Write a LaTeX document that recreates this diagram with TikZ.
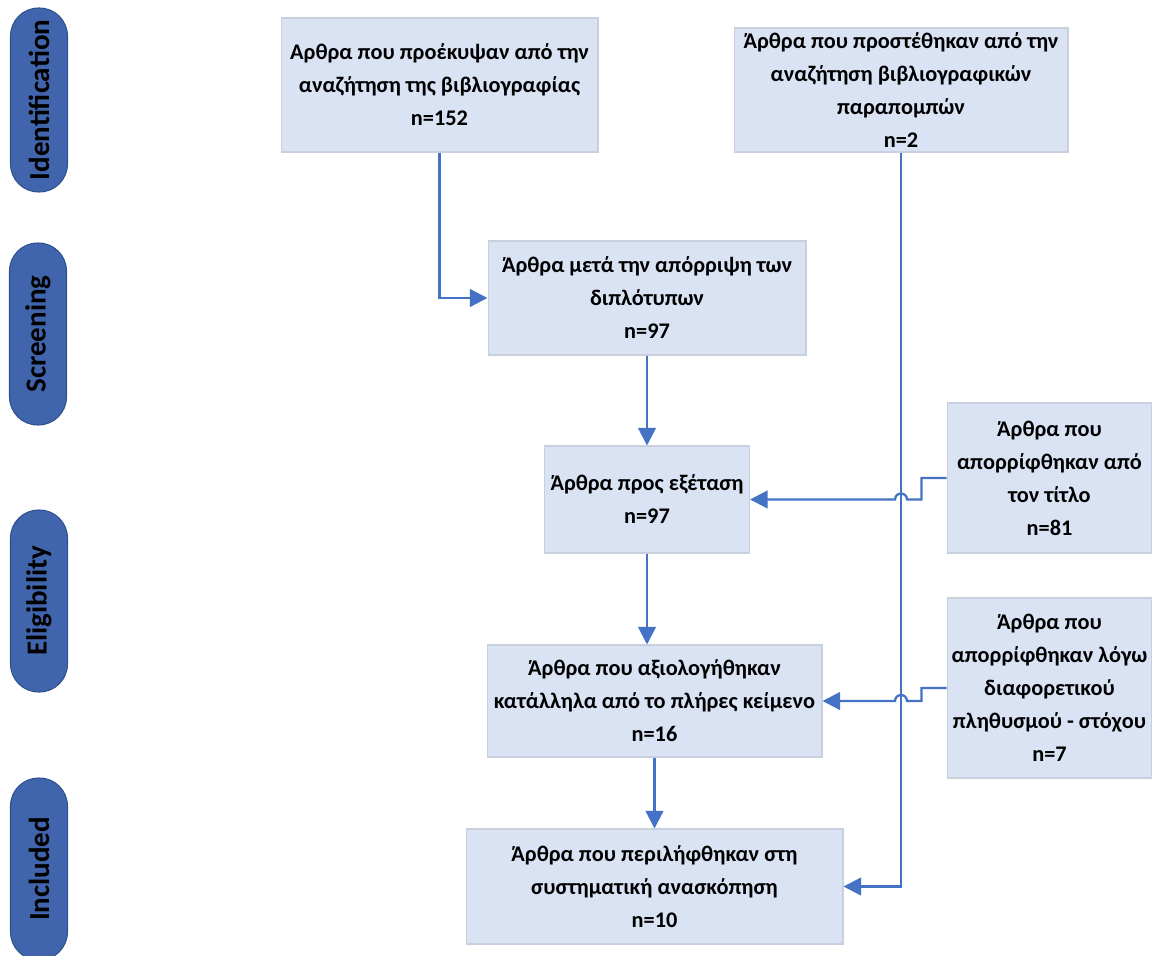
\documentclass[tikz,border=0pt]{standalone}
\usepackage{fontspec}
\setmainfont{Carlito}
\usepackage{tikz}
\usetikzlibrary{arrows.meta,calc}
\definecolor{boxfill}{HTML}{DAE3F3}
\definecolor{boxline}{HTML}{C9D0DD}
\definecolor{phasefill}{HTML}{4065AC}
\definecolor{phaseline}{HTML}{2F528F}
\definecolor{flowline}{HTML}{4472C4}

\begin{document}
\begin{tikzpicture} [x=0.02cm, y=-0.02cm,
                box/.style = {draw=boxline, fill=boxfill, line width=0.6pt, align=center, inner sep=0pt, font=\bfseries\fontsize{12.7}{18.8}\selectfont},
                phase/.style = {draw=phaseline, fill=phasefill, line width=0.6pt, rounded corners=0.56cm, rotate=90, minimum height=1.14cm, inner sep=0pt, font=\bfseries\fontsize{16.5}{19}\selectfont},
                flow/.style = {draw=flowline, line width=1.3pt, -{Triangle[length=10pt,width=10pt]}}
            ]
            \useasboundingbox (0,0) rectangle (1152,956);
            % phases
            \node[phase, minimum width=3.68cm] (ident) at (39,100) {Identification};
            \node[phase, minimum width=3.64cm] (screen) at (38,334) {Screening};
            \node[phase, minimum width=3.64cm] (elig) at (39,601) {Eligibility};
            \node[phase, minimum width=3.64cm] (incl) at (39,869) {Included};
            % boxes
            \node[box, minimum width=6.34cm, minimum height=2.68cm] (found) at (439.5,85) {Αρθρα που προέκυψαν από την\\αναζήτηση της βιβλιογραφίας\\n=152};
            \node[box, minimum width=6.68cm, minimum height=2.48cm] (added) at (901,90) {Άρθρα που προστέθηκαν από την\\αναζήτηση βιβλιογραφικών\\παραπομπών\\n=2};
            \node[box, minimum width=6.36cm, minimum height=2.28cm] (dedup) at (647,298) {Άρθρα μετά την απόρριψη των\\διπλότυπων\\n=97};
            \node[box, minimum width=4.1cm, minimum height=2.14cm] (exam) at (647,499.5) {Άρθρα προς εξέταση\\n=97};
            \node[box, minimum width=4.1cm, minimum height=3cm] (title) at (1049.5,478) {Άρθρα που\\απορρίφθηκαν από\\τον τίτλο\\n=81};
            \node[box, minimum width=6.7cm, minimum height=2.24cm] (full) at (654.5,701) {Άρθρα που αξιολογήθηκαν\\κατάλληλα από το πλήρες κείμενο\\n=16};
            \node[box, minimum width=4.1cm, minimum height=3.6cm] (popul) at (1049.5,688) {Άρθρα που\\απορρίφθηκαν λόγω\\διαφορετικού\\πληθυσμού - στόχου\\n=7};
            \node[box, minimum width=7.54cm, minimum height=2.3cm] (incd) at (654.5,886.5) {Άρθρα που περιλήφθηκαν στη\\συστηματική ανασκόπηση\\n=10};
            % flows
            \draw[flow] (found.south) |- (dedup.west);
            \draw[flow] (dedup.south) -- (exam.north);
            \draw[flow] (exam.south) -- (exam.south |- full.north);
            \draw[flow] (full.south) -- (incd.north);
            \draw[flow] (added.south) |- (incd.east);
            \draw[flow] (title.west) -- ++(-25,0) |- ($(added.south |- exam.east)+(6,0)$) arc[start angle=0, end angle=180, radius=0.12cm] -- (exam.east);
            \draw[flow] (popul.west) -- ++(-25,0) |- ($(added.south |- full.east)+(6,0)$) arc[start angle=0, end angle=180, radius=0.12cm] -- (full.east);
        \end{tikzpicture}
\end{document}
